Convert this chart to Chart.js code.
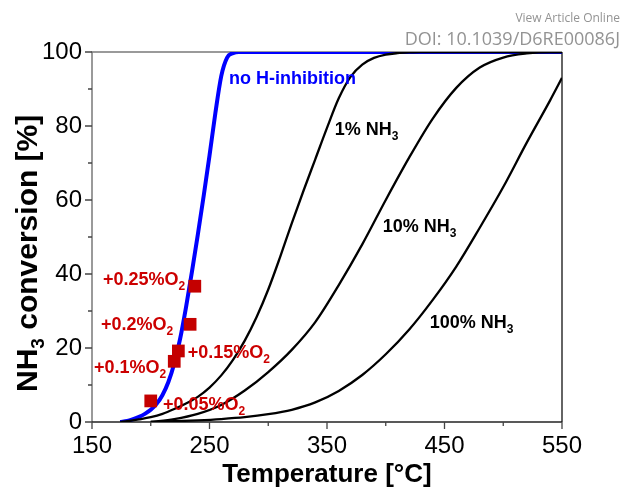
<!DOCTYPE html>
<html>
<head>
<meta charset="utf-8">
<script src="https://cdn.jsdelivr.net/npm/chart.js@4.4.1/dist/chart.umd.min.js"></script>
<style>
  html, body { margin: 0; padding: 0; background: #fff; }
  #wrap { position: relative; width: 637px; height: 489px; }
  #src { position: absolute; right: 17px; top: 9px; text-align: right; color: #939393;
         font-family: "Open Sans", "Noto Sans", sans-serif; }
  #src .l1 { font-size: 12px; line-height: 17px; }
  #src .l2 { font-size: 18px; line-height: 24px; }
</style>
</head>
<body>
<div id="wrap">
  <canvas id="chart" width="637" height="489"></canvas>
  <div id="src"><div class="l1">View Article Online</div><div class="l2">DOI: 10.1039/D6RE00086J</div></div>
</div>
<script>
// model curves: temperature (°C) vs NH3 conversion (%)
const noInhibT = [174, 180, 185, 190, 195, 200, 205, 210, 215, 220, 225, 230, 235, 240, 245, 250, 255, 260, 265, 270, 275, 550];
const noInhibY = [0, 0.3, 0.8, 1.4, 2.2, 3.3, 4.9, 7.3, 10.8, 15.8, 22.5, 31, 40.5, 50.5, 61, 72, 83.5, 93.5, 98.5, 99.7, 100, 100];

const nh3_1T = [174, 180, 190, 200, 210, 220, 230, 240, 250, 260, 270, 280, 290, 300, 310, 320, 330, 340, 350, 360, 370, 380, 390, 400, 410, 420, 430, 550];
const nh3_1Y = [0, 0.2, 0.7, 1.3, 2.2, 3.5, 5, 6.8, 9.3, 12.6, 16.8, 22, 28.3, 35.8, 44.5, 53.7, 62.5, 71, 79.5, 87.5, 93.3, 96.6, 98.4, 99.3, 99.7, 99.9, 100, 100];

const nh3_10T = [200, 220, 240, 260, 280, 300, 320, 340, 360, 380, 400, 420, 440, 460, 480, 500, 520, 540, 550];
const nh3_10Y = [0, 0.8, 2.2, 4.6, 8.5, 13.5, 19.5, 27, 37, 48, 60, 71.5, 82, 90.3, 95.8, 98.5, 99.6, 100, 100];

const nh3_100T = [200, 220, 240, 260, 280, 300, 320, 340, 360, 380, 400, 420, 440, 460, 480, 500, 520, 540, 550];
const nh3_100Y = [0, 0.2, 0.45, 0.8, 1.3, 2.1, 3.3, 5.3, 8.4, 12.7, 18.3, 25, 33, 42, 52.5, 63.5, 75.5, 87, 93];

// measured points with O2 addition
const o2Labels = ["+0.05%", "+0.1%", "+0.15%", "+0.2%", "+0.25%"];
const o2T = [200, 220, 223.5, 233.5, 237.5];
const o2Y = [5.7, 16.4, 19.2, 26.4, 36.7];

const xTicks = [150, 250, 350, 450, 550];
const yTicks = [0, 20, 40, 60, 80, 100];

const pts = (xs, ys) => xs.map((x, i) => ({ x: x, y: ys[i] }));

// text notes: [text, subscript, T, conversion, colour]
const notes = [
  ["no H-inhibition", "", 266.6, 91.4, "#0000ff"],
  ["1% NH", "3", 356.5, 77.6, "#000"],
  ["10% NH", "3", 397.5, 51.4, "#000"],
  ["100% NH", "3", 437.5, 25.4, "#000"],
  [o2Labels[4] + "O", "2", 159.4, 37.0, "#cc0000"],
  [o2Labels[3] + "O", "2", 157.7, 24.9, "#cc0000"],
  [o2Labels[2] + "O", "2", 231.5, 17.2, "#cc0000"],
  [o2Labels[1] + "O", "2", 151.7, 13.2, "#cc0000"],
  [o2Labels[0] + "O", "2", 210.4, 3.2, "#cc0000"],
];

const FONT = '"Liberation Sans", Arial, sans-serif';

function richText(ctx, x, y, main, sub, size) {
  ctx.font = "bold " + size + "px " + FONT;
  ctx.fillText(main, x, y);
  const w = ctx.measureText(main).width;
  if (sub) {
    ctx.font = "bold " + Math.round(size * 0.68) + "px " + FONT;
    ctx.fillText(sub, x + w, y + size * 0.28);
  }
}

// axes frame and tick marks, drawn under the curves
const framePlugin = {
  id: "frame",
  beforeDatasetsDraw(chart) {
    const { ctx, chartArea: a, scales: { x, y } } = chart;
    ctx.save();
    ctx.lineWidth = 1.5;
    ctx.strokeStyle = "#7a7a7a";
    ctx.beginPath();
    ctx.moveTo(a.left, a.bottom); ctx.lineTo(a.left, a.top); ctx.lineTo(a.right, a.top);
    ctx.stroke();
    ctx.strokeStyle = "#222";
    ctx.beginPath();
    ctx.moveTo(a.left, a.bottom); ctx.lineTo(a.right, a.bottom);
    ctx.stroke();
    ctx.lineWidth = 1.3;
    ctx.strokeStyle = "#111";
    ctx.beginPath();
    ctx.moveTo(a.right, a.bottom); ctx.lineTo(a.right, a.top);
    ctx.stroke();

    ctx.lineWidth = 1.3;
    ctx.strokeStyle = "#444";
    ctx.beginPath();
    x.ticks.forEach((t) => {
      const px = x.getPixelForValue(t.value);
      const len = xTicks.includes(t.value) ? 7 : 4;
      ctx.moveTo(px, a.bottom); ctx.lineTo(px, a.bottom + len);
    });
    y.ticks.forEach((t) => {
      const py = y.getPixelForValue(t.value);
      const len = yTicks.includes(t.value) ? 7 : 4;
      ctx.moveTo(a.left, py); ctx.lineTo(a.left - len, py);
    });
    ctx.stroke();
    ctx.restore();
  },
  afterDatasetsDraw(chart) {
    const { ctx, chartArea: a, scales: { x, y } } = chart;
    ctx.save();
    ctx.textBaseline = "alphabetic";
    ctx.textAlign = "left";
    notes.forEach(([txt, sub, t, v, col]) => {
      ctx.fillStyle = col;
      richText(ctx, x.getPixelForValue(t), y.getPixelForValue(v), txt, sub, 18);
    });

    // axis titles
    ctx.fillStyle = "#000";
    ctx.font = "bold 26px " + FONT;
    const xt = "Temperature [°C]";
    const xw = ctx.measureText(xt).width;
    ctx.fillText(xt, (a.left + a.right) / 2 - xw / 2, 482);

    ctx.translate(37, 392);
    ctx.rotate(-Math.PI / 2);
    ctx.font = "bold 30px " + FONT;
    ctx.fillText("NH", 0, 0);
    let w = ctx.measureText("NH").width;
    ctx.font = "bold 19px " + FONT;
    ctx.fillText("3", w, 7);
    w += ctx.measureText("3").width;
    ctx.font = "bold 30px " + FONT;
    ctx.fillText(" conversion [%]", w, 0);
    ctx.restore();
  },
};

const curve = (xs, ys, color, width, order) => ({
  type: "line",
  data: pts(xs, ys),
  borderColor: color,
  borderWidth: width,
  pointRadius: 0,
  fill: false,
  cubicInterpolationMode: "monotone",
  order: order,
});

new Chart(document.getElementById("chart"), {
  type: "line",
  data: {
    datasets: [
      {
        type: "scatter",
        data: pts(o2T, o2Y),
        pointStyle: "rect",
        pointRadius: 9,
        backgroundColor: "#c40000",
        borderColor: "#c40000",
        borderWidth: 0,
        order: 0,
      },
      curve(nh3_1T, nh3_1Y, "#000", 2.3, 1),
      curve(nh3_10T, nh3_10Y, "#000", 2.3, 1),
      curve(nh3_100T, nh3_100Y, "#000", 2.3, 1),
      curve(noInhibT, noInhibY, "#0000ff", 4, 2),
    ],
  },
  options: {
    responsive: false,
    animation: false,
    layout: { padding: { top: 52, right: 75, left: 0, bottom: 0 } },
    plugins: { legend: { display: false }, tooltip: { enabled: false } },
    scales: {
      x: {
        type: "linear",
        min: 150,
        max: 550,
        afterFit: (s) => { s.height = 67; },
        border: { display: false },
        grid: { drawOnChartArea: false, color: "transparent", tickLength: 7 },
        ticks: {
          stepSize: 50,
          padding: 3,
          color: "#000",
          font: { family: FONT, size: 24 },
          maxRotation: 0,
          autoSkip: false,
          callback: (v) => (xTicks.includes(v) ? String(v) : ""),
        },
      },
      y: {
        min: 0,
        max: 100,
        afterFit: (s) => { s.width = 92; },
        border: { display: false },
        grid: { drawOnChartArea: false, color: "transparent", tickLength: 7 },
        ticks: {
          stepSize: 10,
          padding: 3,
          color: "#000",
          font: { family: FONT, size: 24 },
          autoSkip: false,
          callback: (v) => (yTicks.includes(v) ? String(v) : ""),
        },
      },
    },
  },
  plugins: [framePlugin],
});
</script>
</body>
</html>
